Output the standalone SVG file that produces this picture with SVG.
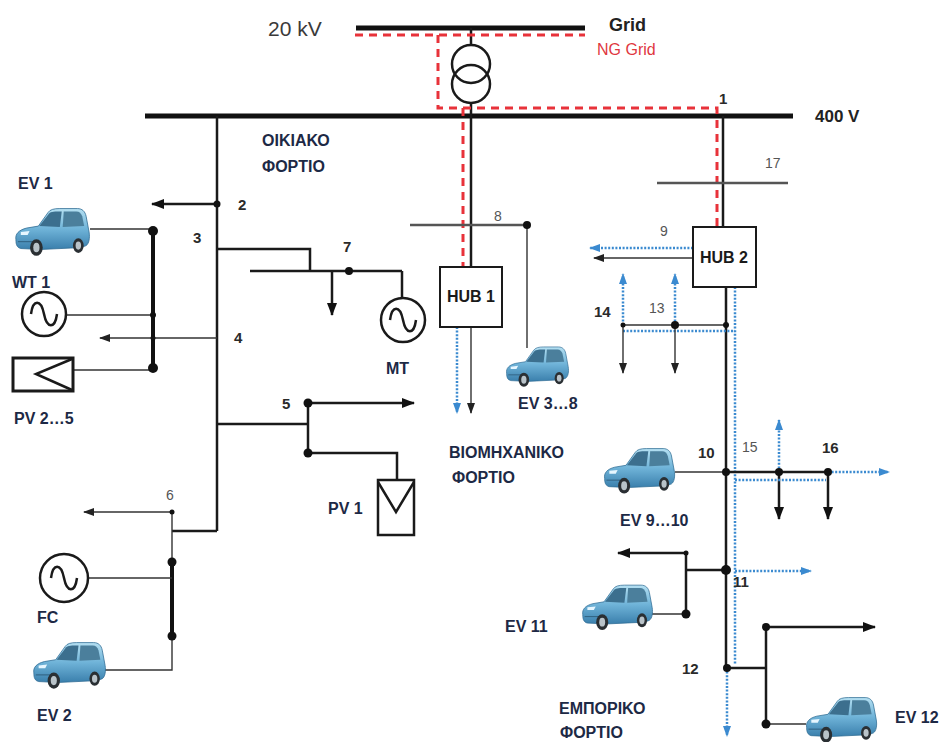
<svg xmlns="http://www.w3.org/2000/svg" width="944" height="742" viewBox="0 0 944 742">
  <style>
    .bus{stroke:#111;stroke-width:5;fill:none}
    .ln{stroke:#1a1a1a;stroke-width:2.5;fill:none}
    .gr{stroke:#555;stroke-width:2.5;fill:none}
    .thin{stroke:#333;stroke-width:1.4;fill:none}
    .thick{stroke:#111;stroke-width:4;fill:none}
    .ng{stroke:#e8323a;stroke-width:3;stroke-dasharray:8 6;fill:none}
    .bl{stroke:#3b8ad0;stroke-width:2.5;stroke-dasharray:2 1.6;fill:none}
    .dot{fill:#111}
    .sym{stroke:#1a1a1a;stroke-width:2.5;fill:#fff}
    .hub{stroke:#1a1a1a;stroke-width:2;fill:#fff}
    text{font-family:"Liberation Sans",Arial,sans-serif}
    .lab{font-weight:bold;font-size:16px;fill:#1d2945}
    .num{font-weight:bold;font-size:15px;fill:#2a2a2a}
    .ngr{font-size:14px;fill:#555}
    .hubt{font-weight:bold;font-size:16px;fill:#1a1a1a;text-anchor:middle}
  </style>
  <defs>
    <marker id="ah" markerUnits="userSpaceOnUse" markerWidth="14" markerHeight="12" refX="12" refY="6" orient="auto">
      <path d="M0,1 L13,6 L0,11 Z" fill="#111"/>
    </marker>
    <marker id="ahs" markerUnits="userSpaceOnUse" markerWidth="12" markerHeight="10" refX="10" refY="5" orient="auto">
      <path d="M0,1 L11,5 L0,9 Z" fill="#222"/>
    </marker>
    <marker id="ahb" markerUnits="userSpaceOnUse" markerWidth="12" markerHeight="10" refX="10" refY="5" orient="auto">
      <path d="M0,1 L11,5 L0,9 Z" fill="#3b8ad0"/>
    </marker>
    <linearGradient id="paint" x1="0" y1="0" x2="0" y2="1">
      <stop offset="0" stop-color="#b5e0f2"/>
      <stop offset="0.5" stop-color="#6fb3d8"/>
      <stop offset="1" stop-color="#3a7fac"/>
    </linearGradient>
    <!-- electric hatchback, facing left -->
    <symbol id="car" viewBox="0 0 80 56">
      <path d="M3,38 C2,32 6,28 14,26 L26,24 L36,10 C38,7 42,6 48,6 L66,6 C71,6 74,9 75,14 L78,30 C79,36 78,42 75,44 L70,46 L28,48 L8,47 C4,46 3,43 3,38 Z" fill="url(#paint)" stroke="#2d6a92" stroke-width="0.8"/>
      <path d="M27,24 L37,11 C39,9 43,9 50,9 L48,25 Z" fill="#3c6f8e"/>
      <path d="M52,9 L65,9 C68,9 70,11 71,14 L73,24 L51,25 Z" fill="#4b7f9c"/>
      <path d="M8,30 L17,29 L15,33 L8,33 Z" fill="#e6f6ff"/>
      <path d="M5,40 L22,40" stroke="#2d5d7c" stroke-width="1"/>
      <ellipse cx="24" cy="46" rx="6.5" ry="8.5" fill="#2a2f33"/>
      <ellipse cx="24" cy="46" rx="3.2" ry="4.8" fill="#b9c3c9"/>
      <ellipse cx="67" cy="44" rx="5.5" ry="7.5" fill="#2a2f33"/>
      <ellipse cx="67" cy="44" rx="2.8" ry="4.2" fill="#b9c3c9"/>
    </symbol>
    <path id="wave" d="M-13,0 C-11,-15 -3,-15 0,0 C3,15 11,15 13,0" fill="none" stroke="#1a1a1a" stroke-width="2.5"/>
  </defs>

  <!-- busbars -->
  <g id="bus-20kv">
    <line class="bus" x1="356" y1="28" x2="585" y2="28"/>
    <text x="268" y="36" font-size="21" fill="#3a3a3a">20 kV</text>
    <text x="609" y="31" font-size="18" font-weight="bold" fill="#222">Grid</text>
    <text x="597" y="55" font-size="16" fill="#e0383f">NG Grid</text>
  </g>
  <g id="bus-400v">
    <line class="bus" x1="145" y1="116" x2="793" y2="116"/>
    <text x="815" y="122" font-size="17" font-weight="bold" fill="#222">400 V</text>
    <text class="num" x="719" y="104" font-size="14">1</text>
  </g>

  <g id="transformer">
    <line class="ln" x1="471" y1="28" x2="471" y2="45"/>
    <circle cx="471" cy="64" r="19" fill="none" stroke="#1a1a1a" stroke-width="2.5"/>
    <circle cx="471" cy="84" r="19" fill="none" stroke="#1a1a1a" stroke-width="2.5"/>
    <line class="ln" x1="471" y1="103" x2="471" y2="116"/>
  </g>

  <!-- connectors -->
  <g id="connectors">
    <!-- NG grid path -->
    <polyline class="ng" points="355,35 585,35"/>
    <polyline class="ng" points="438,35 438,108 717,108 717,227"/>
    <line class="ng" x1="463" y1="108" x2="463" y2="267"/>

    <!-- residential feeder -->
    <line class="ln" x1="217" y1="116" x2="217" y2="531"/>
    <line class="ln" x1="217" y1="531" x2="172" y2="531"/>
    <line class="ln" x1="217" y1="204" x2="152" y2="204" marker-end="url(#ah)"/>
    <polyline class="ln" points="217,249 310,249 310,271"/>
    <line class="ln" x1="250" y1="271" x2="402" y2="271"/>
    <line class="ln" x1="402" y1="271" x2="402" y2="298"/>
    <line class="ln" x1="332" y1="271" x2="332" y2="315" marker-end="url(#ah)"/>
    <line class="thin" x1="217" y1="338" x2="100" y2="338" marker-end="url(#ahs)"/>
    <line class="thick" x1="153" y1="235" x2="153" y2="366"/>
    <line class="thin" x1="90" y1="229" x2="153" y2="229"/>
    <line class="thin" x1="66" y1="315" x2="153" y2="315"/>
    <line class="thin" x1="73" y1="370" x2="153" y2="370"/>
    <line class="ln" x1="217" y1="424" x2="308" y2="424"/>
    <line class="ln" x1="308" y1="403" x2="308" y2="453"/>
    <line class="ln" x1="308" y1="403" x2="414" y2="403" marker-end="url(#ah)"/>
    <polyline class="ln" points="308,453 397,453 397,480"/>
    <line class="thin" x1="172" y1="512" x2="172" y2="562"/>
    <line class="thick" x1="172" y1="562" x2="172" y2="636"/>
    <polyline class="thin" points="105,670 172,670 172,636"/>
    <line class="thin" x1="172" y1="512" x2="84" y2="512" marker-end="url(#ahs)"/>
    <line class="thin" x1="88" y1="578" x2="172" y2="578"/>

    <!-- industrial feeder -->
    <line class="ln" x1="471" y1="116" x2="471" y2="267"/>
    <line class="gr" x1="410" y1="225" x2="527" y2="225"/>
    <line class="thin" x1="527" y1="225" x2="527" y2="348"/>
    <line class="thin" x1="471" y1="327" x2="471" y2="413" marker-end="url(#ahs)"/>
    <line class="bl" x1="457" y1="327" x2="457" y2="413" marker-end="url(#ahb)"/>

    <!-- commercial feeder -->
    <line class="ln" x1="723" y1="116" x2="723" y2="227"/>
    <line class="gr" x1="657" y1="183" x2="788" y2="183"/>
    <line class="bl" x1="693" y1="248" x2="590" y2="248" marker-end="url(#ahb)"/>
    <line class="thin" x1="693" y1="258" x2="594" y2="258" marker-end="url(#ahs)"/>
    <line class="ln" x1="726" y1="287" x2="726" y2="668" stroke-width="3"/>
    <line class="bl" x1="735" y1="287" x2="735" y2="665"/>
    <line class="thin" x1="623" y1="325" x2="726" y2="325" stroke-width="2"/>
    <line class="bl" x1="623" y1="331" x2="735" y2="331"/>
    <line class="thin" x1="623" y1="325" x2="623" y2="373" marker-end="url(#ahs)"/>
    <line class="thin" x1="675" y1="325" x2="675" y2="373" marker-end="url(#ahs)"/>
    <line class="bl" x1="623" y1="325" x2="623" y2="274" marker-end="url(#ahb)"/>
    <line class="bl" x1="675" y1="325" x2="675" y2="274" marker-end="url(#ahb)"/>
    <line class="thin" x1="675" y1="472" x2="726" y2="472"/>
    <line class="ln" x1="726" y1="472" x2="828" y2="472"/>
    <line class="ln" x1="779" y1="472" x2="779" y2="519" marker-end="url(#ah)"/>
    <line class="ln" x1="828" y1="472" x2="828" y2="519" marker-end="url(#ah)"/>
    <line class="bl" x1="779" y1="472" x2="779" y2="420" marker-end="url(#ahb)"/>
    <line class="bl" x1="735" y1="480" x2="826" y2="480"/>
    <line class="bl" x1="828" y1="472" x2="889" y2="472" marker-end="url(#ahb)"/>
    <line class="ln" x1="726" y1="570" x2="686" y2="570"/>
    <line class="ln" x1="686" y1="553" x2="686" y2="614" stroke-width="3.5"/>
    <line class="ln" x1="686" y1="553" x2="618" y2="553" marker-end="url(#ah)"/>
    <line class="thin" x1="652" y1="614" x2="686" y2="614"/>
    <line class="bl" x1="735" y1="571" x2="811" y2="571" marker-end="url(#ahb)"/>
    <line class="ln" x1="727" y1="668" x2="766" y2="668"/>
    <line class="ln" x1="766" y1="627" x2="766" y2="724" stroke-width="3.5"/>
    <line class="ln" x1="766" y1="627" x2="875" y2="627" marker-end="url(#ah)"/>
    <line class="thin" x1="766" y1="724" x2="806" y2="724"/>
    <line class="bl" x1="727" y1="668" x2="727" y2="736" marker-end="url(#ahb)"/>
  </g>

  <!-- junction dots -->
  <g id="junctions">
    <circle class="dot" cx="217" cy="204" r="3.5"/>
    <circle class="dot" cx="349" cy="271" r="4"/>
    <circle class="dot" cx="153" cy="231" r="5"/>
    <circle class="dot" cx="153" cy="315" r="3"/>
    <circle class="dot" cx="153" cy="338" r="2.5"/>
    <circle class="dot" cx="153" cy="368" r="5"/>
    <circle class="dot" cx="308" cy="403" r="4.5"/>
    <circle class="dot" cx="308" cy="453" r="4.5"/>
    <circle class="dot" cx="172" cy="512" r="2.5"/>
    <circle class="dot" cx="172" cy="562" r="4.5"/>
    <circle class="dot" cx="172" cy="636" r="4.5"/>
    <circle class="dot" cx="527" cy="225" r="4"/>
    <circle class="dot" cx="623" cy="325" r="2.5"/>
    <circle class="dot" cx="675" cy="325" r="4"/>
    <circle class="dot" cx="726" cy="325" r="3"/>
    <circle class="dot" cx="726" cy="472" r="4"/>
    <circle class="dot" cx="779" cy="472" r="4"/>
    <circle class="dot" cx="828" cy="472" r="4"/>
    <circle class="dot" cx="726" cy="570" r="5"/>
    <circle class="dot" cx="686" cy="553" r="2.5"/>
    <circle class="dot" cx="686" cy="614" r="4.5"/>
    <circle class="dot" cx="727" cy="668" r="4"/>
    <circle class="dot" cx="766" cy="627" r="4"/>
    <circle class="dot" cx="766" cy="724" r="4.5"/>
  </g>

  <!-- node numbers -->
  <g id="bus-numbers">
    <text class="num" x="238" y="210">2</text>
    <text class="num" x="193" y="243">3</text>
    <text class="num" x="234" y="343">4</text>
    <text class="num" x="282" y="409">5</text>
    <text class="ngr" x="166" y="500">6</text>
    <text class="num" x="343" y="252">7</text>
    <text class="ngr" x="494" y="221">8</text>
    <text class="ngr" x="660" y="236">9</text>
    <text class="num" x="698" y="458">10</text>
    <text class="num" x="733" y="587">11</text>
    <text class="num" x="682" y="674">12</text>
    <text class="ngr" x="649" y="313">13</text>
    <text class="num" x="594" y="317">14</text>
    <text class="ngr" x="742" y="452">15</text>
    <text class="num" x="822" y="453">16</text>
    <text class="ngr" x="765" y="168">17</text>
  </g>

  <!-- load area labels -->
  <g id="area-labels">
    <text class="lab" x="262" y="146" font-size="17">ΟΙΚΙΑΚΟ</text>
    <text class="lab" x="262" y="172" font-size="17">ΦΟΡΤΙΟ</text>
    <text class="lab" x="449" y="458" font-size="17">ΒΙΟΜΗΧΑΝΙΚΟ</text>
    <text class="lab" x="452" y="483" font-size="17">ΦΟΡΤΙΟ</text>
    <text class="lab" x="559" y="714" font-size="17">ΕΜΠΟΡΙΚΟ</text>
    <text class="lab" x="560" y="738" font-size="17">ΦΟΡΤΙΟ</text>
  </g>

  <g id="ev1">
    <use href="#car" x="13" y="202" width="78" height="56"/>
    <text class="lab" x="18" y="189">EV 1</text>
  </g>
  <g id="wt1">
    <circle class="sym" cx="44" cy="314" r="22"/>
    <use href="#wave" transform="translate(44,314)"/>
    <text class="lab" x="12" y="288">WT 1</text>
  </g>
  <g id="pv2-5">
    <rect x="13" y="358" width="60" height="33" fill="#fff" stroke="#1a1a1a" stroke-width="3"/>
    <polyline points="72,359 36,374 72,390" fill="none" stroke="#1a1a1a" stroke-width="2.5"/>
    <text class="lab" x="14" y="424">PV 2…5</text>
  </g>
  <g id="mt">
    <circle class="sym" cx="403" cy="320" r="22"/>
    <use href="#wave" transform="translate(403,320)"/>
    <text class="lab" x="386" y="374">MT</text>
  </g>
  <g id="pv1">
    <rect x="378" y="480" width="36" height="55" fill="#fff" stroke="#1a1a1a" stroke-width="2.5"/>
    <polyline points="378,482 396,512 414,482" fill="none" stroke="#1a1a1a" stroke-width="2.5"/>
    <text class="lab" x="328" y="514">PV 1</text>
  </g>
  <g id="fc">
    <circle class="sym" cx="64" cy="578" r="24"/>
    <use href="#wave" transform="translate(64,578)"/>
    <text class="lab" x="37" y="623">FC</text>
  </g>
  <g id="ev2">
    <use href="#car" x="31" y="636" width="76" height="55"/>
    <text class="lab" x="37" y="721">EV 2</text>
  </g>
  <g id="hub1">
    <rect class="hub" x="440" y="267" width="62" height="60"/>
    <text class="hubt" x="471" y="302">HUB 1</text>
  </g>
  <g id="ev3-8">
    <use href="#car" x="502" y="342" width="70" height="46"/>
    <text class="lab" x="518" y="409">EV 3…8</text>
  </g>
  <g id="hub2">
    <rect class="hub" x="693" y="227" width="63" height="60"/>
    <text class="hubt" x="724" y="263">HUB 2</text>
  </g>
  <g id="ev9-10">
    <use href="#car" x="600" y="443" width="78" height="52"/>
    <text class="lab" x="620" y="526">EV 9…10</text>
  </g>
  <g id="ev11">
    <use href="#car" x="580" y="578" width="74" height="55"/>
    <text class="lab" x="505" y="632">EV 11</text>
  </g>
  <g id="ev12">
    <use href="#car" x="800" y="692" width="82" height="52"/>
    <text class="lab" x="895" y="723">EV 12</text>
  </g>
</svg>
